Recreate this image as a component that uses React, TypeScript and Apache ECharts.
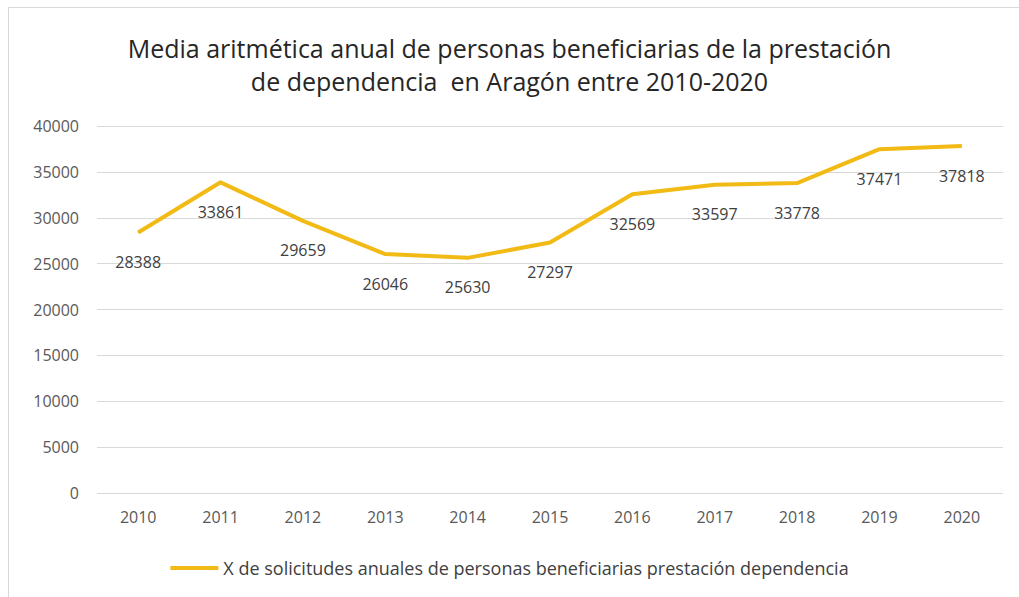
import React, { useEffect, useRef } from "react";
import * as echarts from "echarts";

const categories = ["2010", "2011", "2012", "2013", "2014", "2015", "2016", "2017", "2018", "2019", "2020"];
const values = [28388, 33861, 29659, 26046, 25630, 27297, 32569, 33597, 33778, 37471, 37818];
const seriesName = "X de solicitudes anuales de personas beneficiarias prestación dependencia";
const titleText = "Media aritmética anual de personas beneficiarias de la prestación\nde dependencia  en Aragón entre 2010-2020";

export default function App() {
  const ref = useRef<HTMLDivElement>(null);
  useEffect(() => {
    document.body.style.margin = "0";
    const chart = echarts.init(ref.current!, null, { renderer: "svg" });
    const font = "'Open Sans', sans-serif";
    chart.setOption({
      animation: false,
      backgroundColor: "#ffffff",
      title: {
        text: titleText,
        left: "center",
        top: 26,
        textStyle: { fontFamily: font, fontSize: 25, fontWeight: "normal", color: "#262626", lineHeight: 33 },
      },
      graphic: [
        {
          type: "rect",
          shape: { x: 8.5, y: 7.5, width: 1030, height: 620 },
          style: { fill: "none", stroke: "#d9d9d9", lineWidth: 1 },
          silent: true,
        },
      ],
      legend: {
        bottom: 15,
        left: "center",
        itemWidth: 48,
        itemHeight: 4,
        itemGap: 4,
        icon: "rect",
        textStyle: { fontFamily: font, fontSize: 18, color: "#404040" },
        data: [seriesName],
      },
      grid: { left: 97, right: 16, top: 126, bottom: 104, containLabel: false },
      xAxis: {
        type: "category",
        data: categories,
        boundaryGap: true,
        axisLine: { show: false },
        axisTick: { show: false },
        axisLabel: { fontFamily: font, fontSize: 16, color: "#595959", margin: 16 },
      },
      yAxis: {
        type: "value",
        min: 0,
        max: 40000,
        interval: 5000,
        axisLine: { show: false },
        axisTick: { show: false },
        axisLabel: { fontFamily: font, fontSize: 16, color: "#595959", margin: 18, formatter: (v: number) => String(v) },
        splitLine: { lineStyle: { color: "#d9d9d9", width: 1 } },
      },
      series: [
        {
          name: seriesName,
          type: "line",
          data: values,
          showSymbol: true,
          symbol: "circle",
          symbolSize: 1,
          lineStyle: { color: "#F2BA15", width: 4 },
          itemStyle: { color: "#F2BA15" },
          label: {
            show: true,
            position: "bottom",
            distance: 21,
            fontFamily: font,
            fontSize: 16,
            color: "#404040",
          },
        },
      ],
    });
    return () => chart.dispose();
  }, []);
  return <div ref={ref} style={{ width: 1019, height: 597, position: "absolute", left: 0, top: 0 }} />;
}
